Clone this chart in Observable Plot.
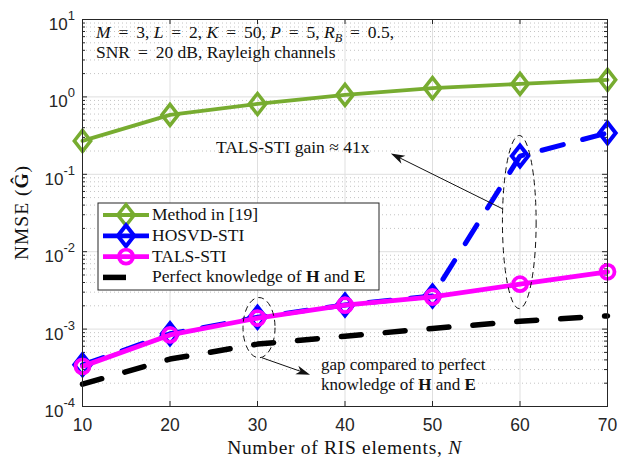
<!DOCTYPE html>
<html>
<head>
<meta charset="utf-8">
<script src="https://cdn.jsdelivr.net/npm/d3@7"></script>
<script src="https://cdn.jsdelivr.net/npm/@observablehq/plot@0.6"></script>
<style>
  body { margin: 0; background: #fff; }
  #chart svg { display: block; }
  #chart svg text.serif, #chart svg text.serif tspan { font-family: "Liberation Serif", "Times New Roman", "DejaVu Serif", serif; }
</style>
</head>
<body>
<div id="chart"></div>
<script>
// NMSE of the estimated cascaded channel versus the number of RIS elements
const N = [10, 20, 30, 40, 50, 60, 70];
const method19 = [0.27, 0.585, 0.81, 1.06, 1.3, 1.47, 1.66];
const hosvdSTI = [3.45e-4, 8.7e-4, 1.42e-3, 2.05e-3, 2.68e-3, 0.172, 0.342];
const talsSTI = [3.3e-4, 8.4e-4, 1.39e-3, 2.04e-3, 2.6e-3, 3.8e-3, 5.5e-3];
const perfectHE = [1.94e-4, 4.1e-4, 6.4e-4, 8.1e-4, 1.02e-3, 1.26e-3, 1.48e-3];

const seriesNames = ["Method in [19]", "HOSVD-STI", "TALS-STI", "Perfect knowledge of H and E"];
const seriesColors = ["#77AC30", "#0000FF", "#FF00FF", "#000000"];

const xTicks = [10, 20, 30, 40, 50, 60, 70];
const yExponents = [-4, -3, -2, -1, 0, 1];

const W = 625, H = 458;
const mL = 82, mR = 18, mT = 19, mB = 52;
const innerW = W - mL - mR, innerH = H - mT - mB;

const rows = (vals) => N.map((n, i) => ({n, v: vals[i]}));
const dMethod = rows(method19), dHosvd = rows(hosvdSTI), dTals = rows(talsSTI), dPerfect = rows(perfectHE);

const yMajor = yExponents.map(e => 10 ** e);
const yMinor = yExponents.slice(0, -1).flatMap(e => [2, 3, 4, 5, 6, 7, 8, 9].map(m => m * 10 ** e));

// hollow diamond, a little taller than wide
const diamond = {
  draw(ctx, size) {
    const h = Math.sqrt(size / Math.PI), w = 0.78 * h;
    ctx.moveTo(0, -h); ctx.lineTo(w, 0); ctx.lineTo(0, h); ctx.lineTo(-w, 0); ctx.closePath();
  }
};

const grid = "#dfdfdf", axisColor = "#262626";

const plot = Plot.plot({
  width: W, height: H,
  marginLeft: mL, marginRight: mR, marginTop: mT, marginBottom: mB,
  style: {fontFamily: "Liberation Sans, Arial, sans-serif", fontSize: "17px", color: axisColor, background: "#fff"},
  x: {domain: [10, 70], label: null, axis: null},
  y: {type: "log", domain: [1e-4, 10], axis: null},
  marks: [
    // grid
    Plot.ruleY(yMinor, {stroke: "#c4c4c4", strokeDasharray: "1,3", strokeWidth: 1}),
    Plot.ruleY(yMajor, {stroke: grid, strokeWidth: 1}),
    Plot.ruleX(xTicks, {stroke: grid, strokeWidth: 1}),
    // inward ticks on all four sides
    Plot.ruleX(xTicks, {stroke: axisColor, insetTop: innerH - 5}),
    Plot.ruleX(xTicks, {stroke: axisColor, insetBottom: innerH - 5}),
    Plot.ruleY(yMajor, {stroke: axisColor, insetRight: innerW - 5}),
    Plot.ruleY(yMajor, {stroke: axisColor, insetLeft: innerW - 5}),
    Plot.ruleY(yMinor, {stroke: axisColor, insetRight: innerW - 3}),
    Plot.ruleY(yMinor, {stroke: axisColor, insetLeft: innerW - 3}),
    Plot.axisX(xTicks, {tickSize: 0, tickPadding: 12, fontSize: 17.5, fill: axisColor, tickFormat: d => String(d)}),
    // Method in [19]
    Plot.line(dMethod, {x: "n", y: "v", stroke: seriesColors[0], strokeWidth: 3.8}),
    Plot.dot(dMethod, {x: "n", y: "v", symbol: diamond, r: 10.5, stroke: seriesColors[0], strokeWidth: 3.5, fill: "none"}),
    // HOSVD-STI
    Plot.line(dHosvd, {x: "n", y: "v", stroke: seriesColors[1], strokeWidth: 5, strokeDasharray: "22,20"}),
    Plot.dot(dHosvd, {x: "n", y: "v", symbol: diamond, r: 10.5, stroke: seriesColors[1], strokeWidth: 4, fill: "none"}),
    // TALS-STI
    Plot.line(dTals, {x: "n", y: "v", stroke: seriesColors[2], strokeWidth: 4.8}),
    Plot.dot(dTals, {x: "n", y: "v", r: 7, stroke: seriesColors[2], strokeWidth: 3.8, fill: "none"}),
    // perfect knowledge bound
    Plot.line(dPerfect, {x: "n", y: "v", stroke: seriesColors[3], strokeWidth: 5.5, strokeDasharray: "20,24"}),
    Plot.frame({stroke: axisColor, strokeWidth: 1})
  ]
});

document.getElementById("chart").appendChild(plot);

const sx = plot.scale("x"), sy = plot.scale("y");
const X = v => sx.apply(v), Y = v => sy.apply(v);
const svg = d3.select(plot);

// y tick labels as powers of ten
const yLab = svg.append("g").attr("fill", axisColor);
yExponents.forEach(e => {
  const t = yLab.append("text").attr("x", mL - 7).attr("y", Y(10 ** e) + 11).attr("text-anchor", "end");
  t.append("tspan").attr("font-size", 17).text("10");
  t.append("tspan").attr("font-size", 13).attr("dy", -10).text(e < 0 ? "-" + (-e) : String(e));
});

// serif rich text helper: parts are [text, style] pairs
const EQ = " \u2009=\u2009 ";
function rich(g, x, y, parts, size = 17.5, anchor = "start", spacing = 0) {
  const t = g.append("text").attr("class", "serif").attr("x", x).attr("y", y)
    .attr("font-size", size).attr("fill", "#111").attr("text-anchor", anchor);
  if (spacing) t.attr("letter-spacing", spacing);
  parts.forEach(([s, st]) => {
    const sp = t.append("tspan").text(s);
    if (st === "i") sp.attr("font-style", "italic");
    if (st === "b") sp.attr("font-weight", "bold");
    if (st === "sub") sp.attr("font-style", "italic").attr("font-size", size * 0.7).attr("dy", 4);
    if (st === "unsub") sp.attr("dy", -4);
  });
  return t;
}

const ann = svg.append("g");

// axis titles
rich(ann, X(40), H - 4, [["Number of RIS elements, ", ""], ["N", "i"]], 19.5, "middle", 0.7);
const yt = rich(ann, 0, 0, [["NMSE (", ""], ["Ĝ", "b"], [")", ""]], 19.5, "middle", 1);
yt.attr("transform", `translate(28,${(Y(1e-4) + Y(10)) / 2}) rotate(-90)`);

// simulation parameters
const paramAt = {n: 11.6, line1: 6.73, line2: 3.71};
rich(ann, X(paramAt.n), Y(paramAt.line1) + 6, [
  ["M", "i"], [EQ + "3, ", ""], ["L", "i"], [EQ + "2, ", ""], ["K", "i"], [EQ + "50, ", ""],
  ["P", "i"], [EQ + "5, ", ""], ["R", "i"], ["B", "sub"], [EQ + "0.5,", "unsub"]
]);
rich(ann, X(paramAt.n), Y(paramAt.line2) + 6, [["SNR" + EQ + "20 dB, Rayleigh channels", ""]]);

// dashed ellipses highlighting the compared points
function ellipse(n0, n1, yTop, yBot) {
  const cx = (X(n0) + X(n1)) / 2, cy = (Y(yTop) + Y(yBot)) / 2;
  ann.append("ellipse").attr("cx", cx).attr("cy", cy)
    .attr("rx", (X(n1) - X(n0)) / 2).attr("ry", (Y(yBot) - Y(yTop)) / 2)
    .attr("fill", "none").attr("stroke", "#111").attr("stroke-width", 1).attr("stroke-dasharray", "6,4");
}
ellipse(58.05, 61.9, 0.313, 1.81e-3);
ellipse(28.4, 32.06, 2.52e-3, 4.2e-4);

// arrows with a filled head
function arrow(n0, v0, n1, v1) {
  const x0 = X(n0), y0 = Y(v0), x1 = X(n1), y1 = Y(v1);
  const a = Math.atan2(y1 - y0, x1 - x0), L = 14, wd = 4.5, back = 10;
  ann.append("line").attr("x1", x0).attr("y1", y0).attr("x2", x1 - Math.cos(a) * 4).attr("y2", y1 - Math.sin(a) * 4)
    .attr("stroke", "#111").attr("stroke-width", 1);
  const px = -Math.sin(a), py = Math.cos(a);
  const bx = x1 - Math.cos(a) * L, by = y1 - Math.sin(a) * L;
  const mx = x1 - Math.cos(a) * back, my = y1 - Math.sin(a) * back;
  ann.append("path").attr("d", `M${x1},${y1}L${bx + px * wd},${by + py * wd}L${mx},${my}L${bx - px * wd},${by - py * wd}Z`)
    .attr("fill", "#111");
}
arrow(58.0, 0.0356, 45.3, 0.183);
arrow(30.57, 4.2e-4, 36.06, 2.54e-4);

rich(ann, X(25.3), Y(0.219) + 6, [["TALS-STI gain ≈ 41x", ""]]);
rich(ann, X(37.3), Y(3.3e-4) + 4, [["gap compared to perfect", ""]], 17);
rich(ann, X(37.3), Y(1.94e-4) + 6, [["knowledge of ", ""], ["H", "b"], [" and ", ""], ["E", "b"]], 17);

// legend
const lg = svg.append("g");
const box = {x: 98, y: 203, w: 281, h: 87};
lg.append("rect").attr("x", box.x).attr("y", box.y).attr("width", box.w).attr("height", box.h)
  .attr("fill", "#fff").attr("stroke", axisColor).attr("stroke-width", 1);
const rowY = i => box.y + 12 + i * 20.8;
const sampleX0 = box.x + 5, sampleX1 = box.x + 51, sampleC = box.x + 28;
seriesNames.forEach((name, i) => {
  const y = rowY(i), c = seriesColors[i];
  if (i === 3) {
    lg.append("line").attr("x1", sampleX0).attr("x2", sampleC).attr("y1", y).attr("y2", y)
      .attr("stroke", c).attr("stroke-width", 5.5);
  } else {
    lg.append("line").attr("x1", sampleX0).attr("x2", sampleX1).attr("y1", y).attr("y2", y)
      .attr("stroke", c).attr("stroke-width", i === 0 ? 3.8 : 4.8);
    if (i === 2) {
      lg.append("circle").attr("cx", sampleC).attr("cy", y).attr("r", 7)
        .attr("fill", "none").attr("stroke", c).attr("stroke-width", 3.8);
    } else {
      const p = d3.path(); diamond.draw(p, Math.PI * 10.5 * 10.5);
      lg.append("path").attr("d", p.toString()).attr("transform", `translate(${sampleC},${y})`)
        .attr("fill", "none").attr("stroke", c).attr("stroke-width", i === 0 ? 3.5 : 4);
    }
  }
  const parts = i === 3
    ? [["Perfect knowledge of ", ""], ["H", "b"], [" and ", ""], ["E", "b"]]
    : [[name, ""]];
  rich(lg, box.x + 54, y + 5, parts, 17.5);
});
</script>
</body>
</html>
